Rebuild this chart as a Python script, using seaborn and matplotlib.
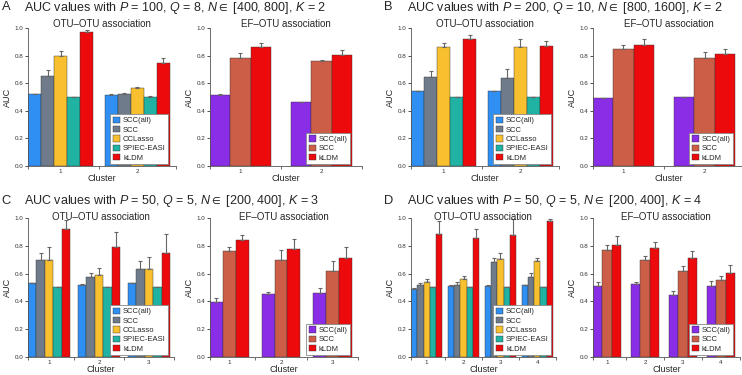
import numpy as np
import pandas as pd
import matplotlib
matplotlib.use("Agg")
import matplotlib.pyplot as plt
from matplotlib.patches import Patch
import seaborn as sns

# methods and colours
methods_otu = ["SCC(all)", "SCC", "CCLasso", "SPIEC-EASI", "kLDM"]
methods_ef = ["SCC(all)", "SCC", "kLDM"]
colors_otu = ["#2f8ff2", "#6f7b8a", "#f8c02e", "#20b2a2", "#ec0a0c"]
colors_ef = ["#8a2de6", "#cc5d47", "#ec0a0c"]

# A: P=100, Q=8, K=2
a_otu_auc = [[0.520, 0.653, 0.799, 0.498, 0.971], [0.515, 0.524, 0.563, 0.502, 0.745]]
a_otu_err = [[0.003, 0.044, 0.031, 0.002, 0.017], [0.004, 0.008, 0.012, 0.003, 0.035]]
a_ef_auc = [[0.517, 0.785, 0.859], [0.461, 0.759, 0.802]]
a_ef_err = [[0.004, 0.037, 0.036], [0.004, 0.010, 0.037]]

# B: P=200, Q=10, K=2
b_otu_auc = [[0.541, 0.646, 0.866, 0.500, 0.922], [0.541, 0.641, 0.859, 0.500, 0.873]]
b_otu_err = [[0.004, 0.042, 0.029, 0.002, 0.024], [0.004, 0.059, 0.061, 0.002, 0.034]]
b_ef_auc = [[0.490, 0.846, 0.878], [0.498, 0.780, 0.815]]
b_ef_err = [[0.005, 0.030, 0.046], [0.003, 0.047, 0.031]]

# C: P=50, Q=5, K=3
c_otu_auc = [[0.530, 0.699, 0.699, 0.501, 0.923],
             [0.518, 0.573, 0.590, 0.501, 0.790],
             [0.530, 0.634, 0.631, 0.501, 0.747]]
c_otu_err = [[0.005, 0.048, 0.089, 0.005, 0.060],
             [0.010, 0.029, 0.049, 0.002, 0.109],
             [0.005, 0.058, 0.087, 0.002, 0.137]]
c_ef_auc = [[0.398, 0.761, 0.839], [0.451, 0.701, 0.776], [0.458, 0.619, 0.711]]
c_ef_err = [[0.024, 0.032, 0.038], [0.019, 0.070, 0.075], [0.036, 0.070, 0.079]]

# D: P=50, Q=5, K=4
d_otu_auc = [[0.489, 0.518, 0.537, 0.501, 0.884],
             [0.508, 0.520, 0.561, 0.500, 0.855],
             [0.511, 0.682, 0.704, 0.500, 0.875],
             [0.516, 0.576, 0.689, 0.500, 0.981]]
d_otu_err = [[0.006, 0.015, 0.024, 0.002, 0.097],
             [0.008, 0.017, 0.022, 0.002, 0.068],
             [0.004, 0.031, 0.043, 0.002, 0.120],
             [0.003, 0.026, 0.022, 0.002, 0.014]]
d_ef_auc = [[0.511, 0.773, 0.807], [0.525, 0.696, 0.783],
            [0.446, 0.619, 0.711], [0.511, 0.552, 0.607]]
d_ef_err = [[0.031, 0.034, 0.065], [0.017, 0.034, 0.041],
            [0.031, 0.036, 0.053], [0.038, 0.031, 0.056]]

panel_titles = [
    ("A", r"AUC values with $P$ = 100, $Q$ = 8, $N \in$ [400, 800], $K$ = 2"),
    ("B", r"AUC values with $P$ = 200, $Q$ = 10, $N \in$ [800, 1600], $K$ = 2"),
    ("C", r"AUC values with $P$ = 50, $Q$ = 5, $N \in$ [200, 400], $K$ = 3"),
    ("D", r"AUC values with $P$ = 50, $Q$ = 5, $N \in$ [200, 400], $K$ = 4"),
]

sns.set_style("ticks")
plt.rcParams['font.family'] = ['Liberation Sans', 'DejaVu Sans']
plt.rcParams['mathtext.fontset'] = 'custom'
plt.rcParams['mathtext.rm'] = 'Liberation Sans'
plt.rcParams['mathtext.it'] = 'Liberation Sans:italic'
plt.rcParams['mathtext.fallback'] = 'stixsans'


def draw_panel(ax, auc, err, methods, colors, title, width, title_pad):
    n = len(auc)
    rows = []
    for ci in range(n):
        for mi, m in enumerate(methods):
            rows.append({"Cluster": str(ci + 1), "Method": m, "AUC": auc[ci][mi]})
    df = pd.DataFrame(rows)
    sns.barplot(data=df, x="Cluster", y="AUC", hue="Method", hue_order=methods,
                palette=colors, saturation=1, errorbar=None, width=width,
                legend=False, edgecolor="#333333", linewidth=0.3, ax=ax)
    # upward error bars, one container per method
    bar_conts = list(ax.containers)
    for mi, cont in enumerate(bar_conts):
        for ci, bar in enumerate(cont):
            xc = bar.get_x() + bar.get_width() / 2
            ax.errorbar(xc, bar.get_height(), yerr=[[0], [err[ci][mi]]],
                        fmt="none", ecolor="#666666", elinewidth=0.8,
                        capsize=1.5, capthick=0.8, clip_on=False)
    x0 = -width / 2
    x1 = n - 1 + width / 2 + (1 - width) / 2
    ax.set_xlim(x0, x1)
    ax.set_ylim(0, 1.0)
    ax.set_yticks(np.arange(0, 1.01, 0.2))
    ax.set_yticklabels([f"{v:.1f}" for v in np.arange(0, 1.01, 0.2)])
    ax.set_xticks(range(n))
    ax.set_xticks([x0] + [k + 0.5 for k in range(n - 1)] + [x1], minor=True)
    ax.tick_params(axis="x", which="major", length=0, labelsize=4.5, pad=2.5, colors="#333333")
    ax.tick_params(axis="x", which="minor", length=2, width=0.6, color="#555555")
    ax.tick_params(axis="y", length=2, width=0.6, labelsize=4.5, pad=1.5,
                   colors="#333333")
    for s in ["left", "bottom"]:
        ax.spines[s].set_linewidth(0.6)
        ax.spines[s].set_color("#555555")
    sns.despine(ax=ax)
    ax.set_xlabel("Cluster", fontsize=6.5, labelpad=0)
    ax.set_ylabel("AUC", fontsize=6.5, labelpad=2)
    # fixed y so matplotlib does not push the title above the tick labels
    ax.set_title(title, fontsize=7, pad=title_pad, y=1.0)
    handles = [Patch(facecolor=c, edgecolor="#333333", linewidth=0.3) for c in colors]
    leg = ax.legend(handles, methods, loc="lower right", fontsize=5.5,
                    frameon=True, fancybox=False, framealpha=1,
                    bbox_to_anchor=((n - 1 + width / 2 - x0) / (x1 - x0), 0),
                    borderaxespad=0.2, borderpad=0.35, labelspacing=0.2,
                    handlelength=0.9, handleheight=0.9, handletextpad=0.4)
    leg.get_frame().set_edgecolor("#888888")
    leg.get_frame().set_linewidth(0.6)


fig = plt.figure(figsize=(7.42, 3.75), dpi=100)

lefts = [28 / 742, 210 / 742, 411 / 742, 593 / 742]
bars_px = 142
rows_pos = [(0.5573, 0.368), (0.048, 0.3707)]

panels = [
    (a_otu_auc, a_otu_err, a_ef_auc, a_ef_err),
    (b_otu_auc, b_otu_err, b_ef_auc, b_ef_err),
    (c_otu_auc, c_otu_err, c_ef_auc, c_ef_err),
    (d_otu_auc, d_otu_err, d_ef_auc, d_ef_err),
]

for pi, (oa, oe, ea, ee) in enumerate(panels):
    r = pi // 2
    c = (pi % 2) * 2
    bottom, height = rows_pos[r]
    tpad = 0.5 if r == 0 else -1.5
    for k, (auc, err, meth, cols, ttl, w) in enumerate([
            (oa, oe, methods_otu, colors_otu, "OTU–OTU association", 0.85),
            (ea, ee, methods_ef, colors_ef, "EF–OTU association", 0.75)]):
        n = len(auc)
        span = n - 1 + w / 2 + (1 - w) / 2 + w / 2
        width_px = bars_px * span / (n - 1 + w)
        ax = fig.add_axes([lefts[c + k], bottom, width_px / 742, height])
        draw_panel(ax, auc, err, meth, cols, ttl, w, tpad)
    letter, text = panel_titles[pi]
    ty = 0.980 if r == 0 else 0.463
    lx = 0.002 if pi % 2 == 0 else 384 / 742
    tx = 24 / 742 if pi % 2 == 0 else 407 / 742
    fig.text(lx, ty, letter, fontsize=9.3, va="center", ha="left")
    fig.text(tx, ty, text, fontsize=9.0, va="center", ha="left")

fig.savefig("out.png", dpi=100)
